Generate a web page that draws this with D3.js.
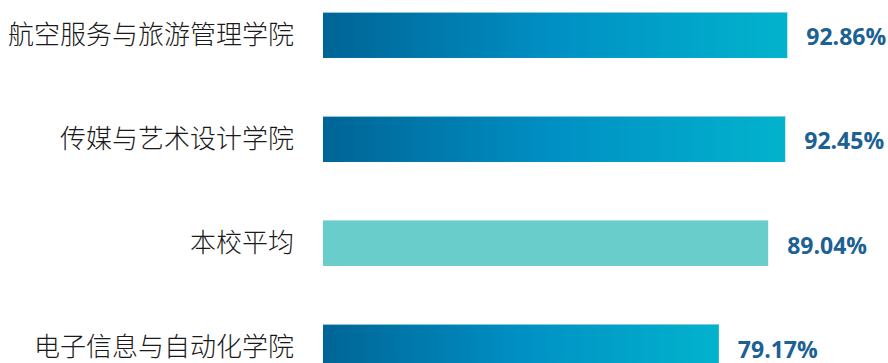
<!DOCTYPE html>
<html>
<head>
<meta charset="utf-8">
<script src="https://cdn.jsdelivr.net/npm/d3@7"></script>
<style>
  html, body { margin: 0; padding: 0; background: #fff; }
  svg { display: block; }
</style>
</head>
<body>
<svg width="888" height="363"></svg>
<script>
// data
const categories = ["航空服务与旅游管理学院", "传媒与艺术设计学院", "本校平均", "电子信息与自动化学院"];
const values = [92.86, 92.45, 89.04, 79.17];
const isAverage = [false, false, true, false];

const svg = d3.select("svg");

// scales
const x = d3.scaleLinear().domain([0, 100]).range([323, 823]);
const y = d3.scaleBand()
    .domain(categories)
    .range([12, 370])
    .paddingInner(0.558)
    .paddingOuter(0);

// gradient for the college bars
const grad = svg.append("defs").append("linearGradient")
    .attr("id", "barGrad")
    .attr("x1", "0%").attr("x2", "100%")
    .attr("y1", "0%").attr("y2", "0%");
grad.append("stop").attr("offset", "0%").attr("stop-color", "#006496");
grad.append("stop").attr("offset", "50%").attr("stop-color", "#0090c4");
grad.append("stop").attr("offset", "100%").attr("stop-color", "#02b3cd");

const rows = svg.append("g")
    .selectAll("g")
    .data(categories.map((c, i) => ({ name: c, value: values[i], avg: isAverage[i] })))
    .join("g");

// bars
rows.append("rect")
    .attr("x", x(0))
    .attr("y", d => y(d.name))
    .attr("width", d => x(d.value) - x(0))
    .attr("height", y.bandwidth())
    .attr("fill", d => d.avg ? "#68cdcb" : "url(#barGrad)");

// thin light edge on top of each bar
rows.append("line")
    .attr("x1", x(0))
    .attr("x2", d => x(d.value))
    .attr("y1", d => y(d.name) + 0.5)
    .attr("y2", d => y(d.name) + 0.5)
    .attr("stroke", d => d.avg ? "#a6e0de" : "#8cc6e2")
    .attr("stroke-width", 1);

// category labels
rows.append("text")
    .attr("x", 294)
    .attr("y", d => y(d.name) + y.bandwidth() / 2)
    .attr("dy", "0.36em")
    .attr("text-anchor", "end")
    .attr("font-family", "'Noto Sans CJK SC', sans-serif")
    .attr("font-weight", 300)
    .attr("font-size", 26)
    .attr("fill", "#1a1a1a")
    .text(d => d.name);

// value labels
rows.append("text")
    .attr("x", d => x(d.value) + 19)
    .attr("y", d => y(d.name) + y.bandwidth() / 2 + 10.5)
    .attr("font-family", "'Open Sans', sans-serif")
    .attr("font-weight", 700)
    .attr("font-size", 23)
    .attr("fill", "#1b6193")
    .text(d => d.value.toFixed(2) + "%");
</script>
</body>
</html>
